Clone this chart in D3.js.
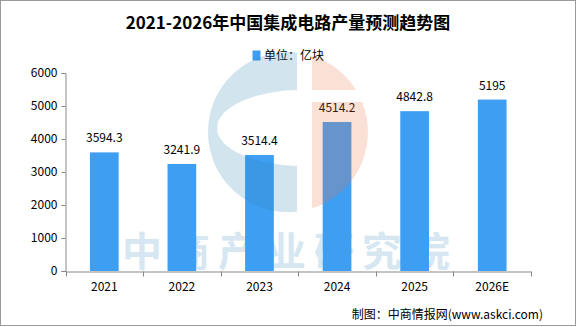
<!DOCTYPE html>
<html>
<head>
<meta charset="utf-8">
<script src="https://cdn.jsdelivr.net/npm/d3@7"></script>
<style>
  body { margin: 0; background: #fff; }
  svg text { font-family: "Noto Sans CJK SC", "Noto Sans", sans-serif; }
</style>
</head>
<body>
<svg width="576" height="327"></svg>
<script>
const years = ['2021', '2022', '2023', '2024', '2025', '2026E'];
const output = [3594.3, 3241.9, 3514.4, 4514.2, 4842.8, 5195];
const yTicks = [0, 1000, 2000, 3000, 4000, 5000, 6000];

const svg = d3.select('svg');

// frame
svg.append('rect')
  .attr('x', 0.5).attr('y', 0.5)
  .attr('width', 575).attr('height', 325)
  .attr('fill', '#fff')
  .attr('stroke', '#9a9a9a');

const x = d3.scaleBand()
  .domain(years)
  .range([65.5, 531])
  .paddingInner(0.63)
  .paddingOuter(0.315);

const y = d3.scaleLinear()
  .domain([0, 6000])
  .range([271, 73]);

// watermark text (behind bars)
svg.append('text')
  .attr('x', 290)
  .attr('y', 266)
  .attr('text-anchor', 'middle')
  .attr('font-size', 40)
  .attr('font-weight', 'bold')
  .attr('letter-spacing', 8)
  .attr('fill', '#d6e7f1')
  .text('中商产业研究院');

// title
svg.append('text')
  .attr('x', 288)
  .attr('y', 29)
  .attr('text-anchor', 'middle')
  .attr('font-size', 17)
  .attr('font-weight', 'bold')
  .attr('fill', '#000')
  .text('2021-2026年中国集成电路产量预测趋势图');

// legend
svg.append('rect')
  .attr('x', 252.5).attr('y', 50.5)
  .attr('width', 8).attr('height', 10)
  .attr('fill', '#3d9ef2');
svg.append('text')
  .attr('x', 264)
  .attr('y', 60)
  .attr('font-size', 12)
  .attr('fill', '#000')
  .text('单位：亿块');

// bars
svg.append('g')
  .selectAll('rect')
  .data(output)
  .enter()
  .append('rect')
  .attr('x', (d, i) => x(years[i]))
  .attr('y', d => y(d))
  .attr('width', x.bandwidth())
  .attr('height', d => y(0) - y(d))
  .attr('fill', '#3d9ef2');

// value labels
svg.append('g')
  .selectAll('text')
  .data(output)
  .enter()
  .append('text')
  .attr('x', (d, i) => x(years[i]) + x.bandwidth() / 2)
  .attr('y', d => y(d) - 10)
  .attr('text-anchor', 'middle')
  .attr('font-size', 12)
  .attr('fill', '#000')
  .text(d => d);

// y axis
const yAxis = svg.append('g')
  .attr('transform', 'translate(65.5,0)')
  .call(d3.axisLeft(y).tickValues(yTicks).tickSize(4).tickPadding(4).tickFormat(d3.format('d')));
yAxis.selectAll('path, line').attr('stroke', '#888');
yAxis.selectAll('text').attr('font-size', 12).attr('fill', '#000')
  .attr('font-family', '"Noto Sans CJK SC", sans-serif');

// x axis
const xAxis = svg.append('g')
  .attr('transform', 'translate(0,' + (y(0) + 0.5) + ')')
  .call(d3.axisBottom(x).tickSize(0).tickPadding(11));
xAxis.select('.domain').attr('stroke', '#888');
xAxis.selectAll('text').attr('font-size', 12).attr('fill', '#000')
  .attr('font-family', '"Noto Sans CJK SC", sans-serif');
const edges = years.map(d => x(d) + x.bandwidth() / 2 - x.step() / 2)
  .concat([x(years[years.length - 1]) + x.bandwidth() / 2 + x.step() / 2]);
xAxis.selectAll('line.edge')
  .data(edges)
  .enter()
  .append('line')
  .attr('class', 'edge')
  .attr('x1', d => Math.round(d) + 0.5)
  .attr('x2', d => Math.round(d) + 0.5)
  .attr('y1', 0).attr('y2', 5)
  .attr('stroke', '#888');

// watermark logo (over bars)
const cx = 288, cy = 132, R = 80;
const defs = svg.append('defs');
defs.append('clipPath').attr('id', 'leftClip')
  .append('rect').attr('x', 0).attr('y', 0).attr('width', 297).attr('height', 327);
const rc = defs.append('clipPath').attr('id', 'rightClip');
rc.append('rect').attr('x', 312).attr('y', 0).attr('width', 100).attr('height', 90);
rc.append('rect').attr('x', 312).attr('y', 102).attr('width', 100).attr('height', 200);

const ring = d3.path();
ring.arc(cx, cy, R, 0, 2 * Math.PI);
ring.closePath();
const inner = 'M' + (301 + 84) + ',128 A84,38 0 1,0 ' + (301 - 84) + ',128 A84,38 0 1,0 ' + (301 + 84) + ',128 Z';
svg.append('path')
  .attr('d', ring.toString() + ' ' + inner)
  .attr('fill-rule', 'evenodd')
  .attr('fill', 'rgb(50,132,177)')
  .attr('fill-opacity', 0.22)
  .attr('clip-path', 'url(#leftClip)');
svg.append('path')
  .attr('d', ring.toString())
  .attr('fill', 'rgb(239,122,78)')
  .attr('fill-opacity', 0.23)
  .attr('clip-path', 'url(#rightClip)');

// source
svg.append('text')
  .attr('x', 543)
  .attr('y', 319)
  .attr('text-anchor', 'end')
  .attr('font-size', 12)
  .attr('fill', '#000')
  .text('制图：中商情报网(www.askci.com)');
</script>
</body>
</html>
